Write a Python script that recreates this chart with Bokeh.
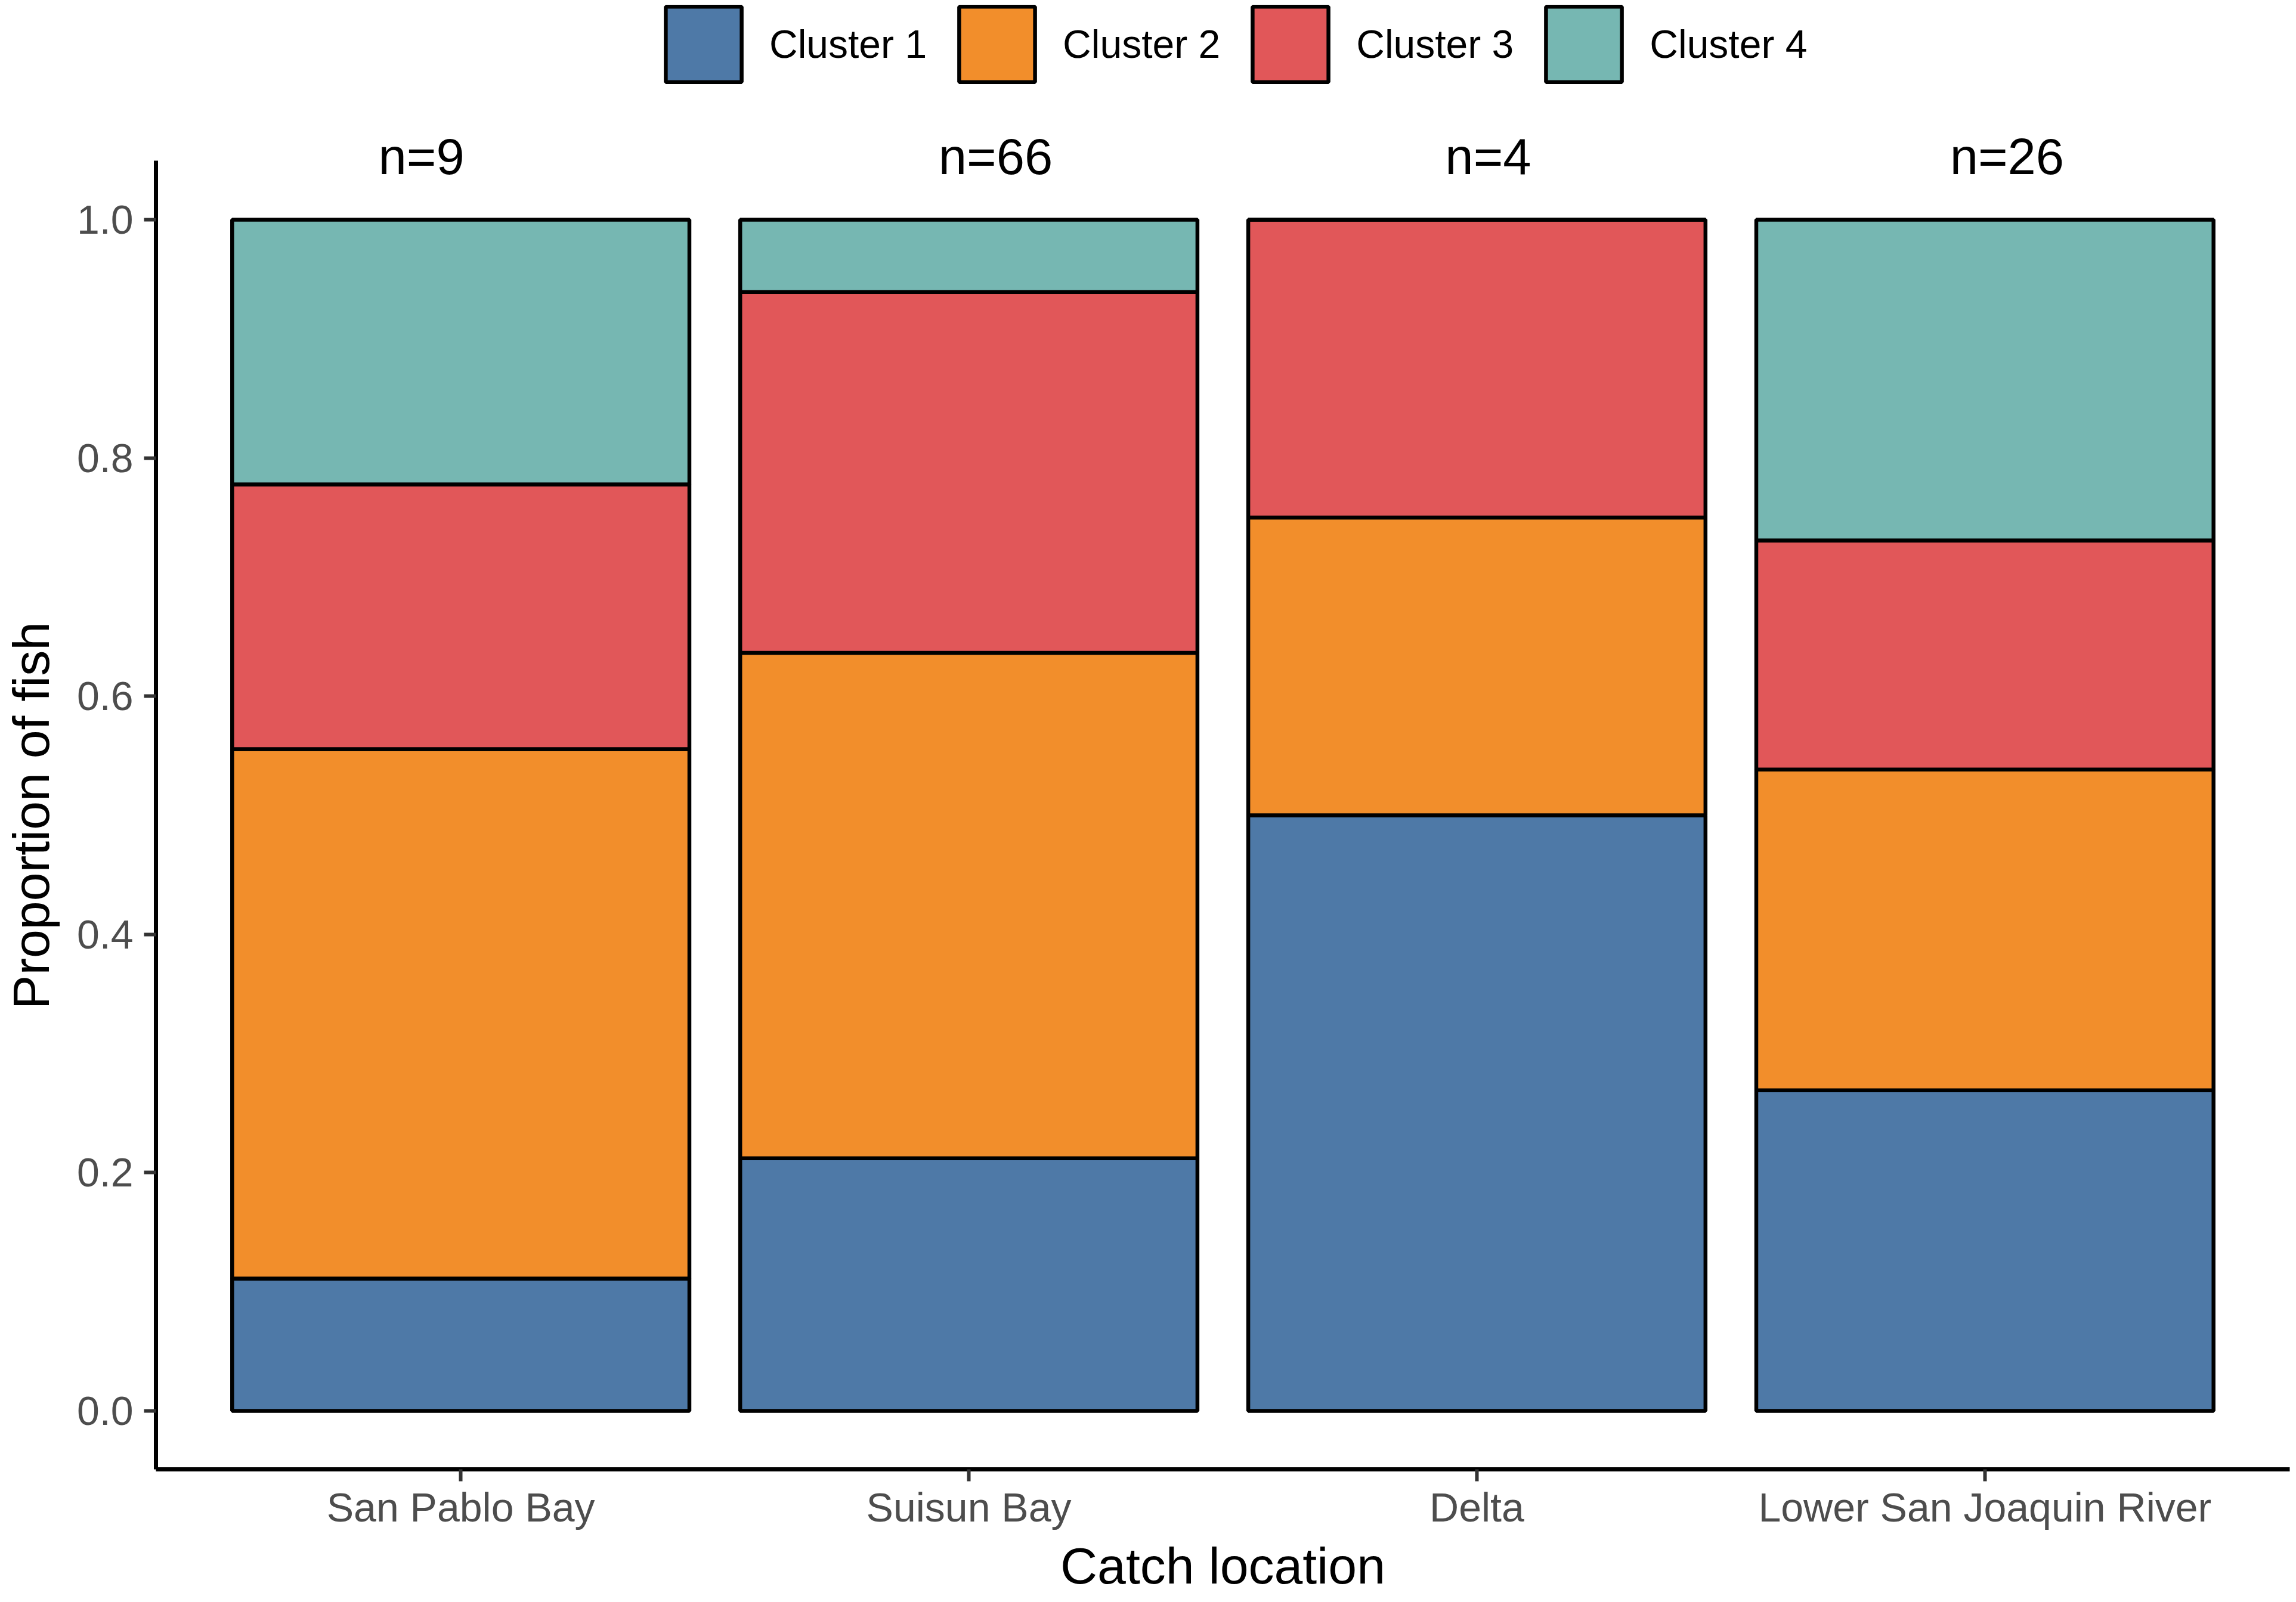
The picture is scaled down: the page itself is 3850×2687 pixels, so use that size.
from bokeh.plotting import figure
from bokeh.models import (ColumnDataSource, FactorRange, Range1d, Legend, LegendItem,
                          FixedTicker, PrintfTickFormatter)
from bokeh.core.properties import value
from bokeh.embed import file_html
from bokeh.resources import INLINE

# ---------------- data ----------------
locations = ["San Pablo Bay", "Suisun Bay", "Delta", "Lower San Joaquin River"]
n_fish = [9, 66, 4, 26]
cluster1 = [1, 14, 2, 7]
cluster2 = [4, 28, 1, 7]
cluster3 = [2, 20, 1, 5]
cluster4 = [2, 4, 0, 7]
cluster_names = ["Cluster 1", "Cluster 2", "Cluster 3", "Cluster 4"]
y_ticks = [0.0, 0.2, 0.4, 0.6, 0.8, 1.0]
n_label_level = [1.053, 1.053, 1.053, 1.053]

# ---------------- styling ----------------
colors = ["#4E79A7", "#F28E2B", "#E15759", "#76B7B2"]
FONT = "Liberation Sans"
n_label_shift_px = [-66, 45, 19, 37]

props = {}
for name, counts in zip(["c1", "c2", "c3", "c4"], [cluster1, cluster2, cluster3, cluster4]):
    props[name] = [c / n for c, n in zip(counts, n_fish)]

source = ColumnDataSource(dict(loc=locations, **props))
label_source = ColumnDataSource(dict(
    loc=locations,
    y=n_label_level,
    text=["n=%d" % n for n in n_fish],
    dx=n_label_shift_px,
))

W, H = 3842, 2679
p = figure(
    width=W, height=H,
    x_range=FactorRange(*locations, range_padding=0.1, range_padding_units="absolute"),
    y_range=Range1d(-0.049, 1.1802),
    output_backend="svg", toolbar_location=None,
    min_border_left=255, min_border_right=3, min_border_top=8, min_border_bottom=215,
)
p.outline_line_color = None
p.xgrid.visible = False
p.ygrid.visible = False
p.background_fill_color = "white"
p.border_fill_color = "white"

renderers = p.vbar_stack(["c1", "c2", "c3", "c4"], x="loc", width=0.9, color=colors,
                         source=source, line_color="black", line_width=6.5)

p.text(x="loc", y="y", text="text", x_offset="dx", source=label_source,
       text_font=value(FONT), text_font_size="85px", text_color="black",
       text_align="center", text_baseline="middle")

legend = Legend(
    items=[LegendItem(label=nm, renderers=[r]) for nm, r in zip(cluster_names, renderers)],
    orientation="horizontal",
    location=(839, 2311),
    glyph_width=159, glyph_height=158,
    label_standoff=31, spacing=38, padding=0, margin=0,
    label_text_font=FONT, label_text_font_size="66px", label_text_color="black",
    border_line_color=None, background_fill_alpha=0,
)
p.add_layout(legend, "center")

for ax in (p.xaxis[0], p.yaxis[0]):
    ax.axis_line_color = "black"
    ax.axis_line_width = 7
    ax.major_tick_line_color = "#333333"
    ax.major_tick_line_width = 6
    ax.major_tick_out = 20
    ax.major_tick_in = 0
    ax.minor_tick_line_color = None
    ax.major_label_text_font = FONT
    ax.major_label_text_font_size = "68px"
    ax.major_label_text_color = "#4D4D4D"
    ax.axis_label_text_font = FONT
    ax.axis_label_text_font_size = "86px"
    ax.axis_label_text_font_style = "normal"
    ax.axis_label_text_color = "black"

p.xaxis.axis_label = "Catch location"
p.xaxis.major_label_standoff = 5
p.xaxis.axis_label_standoff = 9

# the frame reaches up to the legend, so the title is padded (non-breaking spaces)
# to sit centred on the 0-1 panel like the reference
p.yaxis.axis_label = "Proportion of fish" + "\u00a0" * 11
p.yaxis.ticker = FixedTicker(ticks=y_ticks)
p.yaxis.formatter = PrintfTickFormatter(format="%.1f")
p.yaxis.bounds = (-0.049, 1.0495)
p.yaxis.major_label_standoff = 18
p.yaxis.axis_label_standoff = 26

open("out.html", "w").write(file_html(p, INLINE))
